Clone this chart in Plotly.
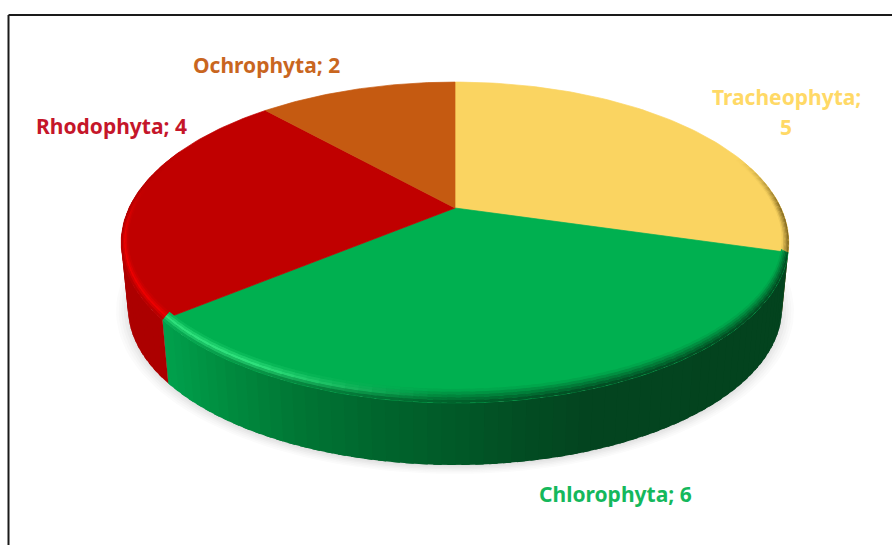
import numpy as np
import plotly.graph_objects as go

# slices run clockwise from 12 o'clock
categories = ['Tracheophyta', 'Chlorophyta', 'Rhodophyta', 'Ochrophyta']
values = [5, 6, 4, 2]
slice_colours = ['#FAD461', '#00B050', '#C00000', '#C55A11']
label_colours = ['#FFD966', '#14B85C', '#C5162A', '#C9661F']

# chart layout, in page pixels
CX, CY = 455, 208
RX, RY, PERSP = 326, 153, 0.215
DEPTH, BOTTOM_SCALE = 66, 0.98
BEVEL = 9

label_pos = {
    'Tracheophyta': (786, 97),
    'Chlorophyta': (615, 494),
    'Rhodophyta': (111, 126),
    'Ochrophyta': (266, 65),
}

green_side_x = [165, 230, 300, 380, 450, 520, 590, 790]
green_side_c = [(0, 160, 76), (0, 138, 62), (0, 117, 52), (0, 101, 45),
                (1, 90, 40), (2, 77, 35), (3, 68, 31), (3, 67, 30)]


def project(theta, r=1.0, dy=0.0, scale=1.0):
    # small correction: the lower left of the original sits a little further round
    if 106 < theta < 318:
        theta = theta - 2.2 * np.sin(np.radians((theta - 106) / 212 * 180))
    t = np.radians(theta)
    x, y = r * np.sin(t), r * np.cos(t)
    w = 1 + PERSP * y
    return CX + RX * x / w * scale, CY + dy - RY * y / w * scale


def hex_rgb(c):
    return tuple(int(c[i:i + 2], 16) for i in (1, 3, 5))


def mix(a, b, f):
    return tuple(a[i] + (b[i] - a[i]) * f for i in range(3))


def css(c):
    return 'rgb(%d,%d,%d)' % tuple(round(v) for v in c)


def polygon(xs, ys, colour, name=None):
    fig.add_trace(go.Scatter(x=list(xs), y=list(ys), mode='lines', fill='toself',
                             fillcolor=colour,
                             line=dict(color=colour, width=0.7) if name else dict(width=0),
                             hoverinfo='name' if name else 'skip', name=name or '',
                             showlegend=False))


def side_colour(cat, theta, x):
    if cat == 'Chlorophyta':
        return tuple(np.interp(x, green_side_x, [c[i] for c in green_side_c]) for i in range(3))
    if cat == 'Rhodophyta':
        return (172, 0, 0)
    if cat == 'Tracheophyta':
        return (125, 100, 30)
    return (140, 60, 10)


def highlight(cat, theta, x):
    if cat == 'Chlorophyta':
        return (47, 224, 124), float(np.clip((440 - x) / 190, 0, 1))
    if cat == 'Rhodophyta':
        return (236, 0, 0), float(np.clip((285 - theta) / 25, 0, 1))
    return (0, 0, 0), 0.0


def edge_strength(cat, theta):
    if cat == 'Tracheophyta':
        return float(np.clip((theta - 70) / 20, 0, 1))
    if cat == 'Rhodophyta':
        return float(np.clip((292 - theta) / 22, 0, 1))
    if cat == 'Ochrophyta':
        return 0.0
    return 1.0


def bevel_point(theta, level):
    # level 1 is the outer edge; the band is pushed up only along the front
    front = max(0.0, -np.cos(np.radians(theta)))
    return project(theta, r=1 - 0.02 * (1 - level), dy=-BEVEL * front * (1 - level))


fig = go.Figure()

# soft shadow below the pie
angles = np.linspace(0, 360, 181)
for s, shade in zip([1.036, 1.028, 1.02, 1.012, 1.004, 0.996],
                    ['#FBFBFB', '#F7F7F7', '#F2F2F2', '#ECECEC', '#E6E6E6', '#E0E0E0']):
    pts = [project(a, dy=DEPTH + 2, scale=BOTTOM_SCALE * s) for a in angles]
    polygon([p[0] for p in pts], [p[1] for p in pts], shade)

edges = np.concatenate([[0], np.cumsum(values)]) / sum(values) * 360
spans = list(zip(categories, slice_colours, edges[:-1], edges[1:]))

# rim, one thin strip per step; each strip overlaps the next one to hide seams
STEP = 2.0
for cat, colour, a0, a1 in spans:
    lo, hi = max(a0, 85), min(a1, 275)
    if lo >= hi:
        continue
    steps = np.arange(lo, hi, STEP)
    for t0 in steps:
        t1 = min(t0 + STEP * 1.6, hi)
        xa, ya = project(t0)
        xb, yb = project(t1)
        xc, yc = project(t1, dy=DEPTH, scale=BOTTOM_SCALE)
        xd, yd = project(t0, dy=DEPTH, scale=BOTTOM_SCALE)
        c = side_colour(cat, t0 + STEP / 2, project(t0 + STEP / 2)[0])
        polygon([xa, xb, xc, xd, xa], [ya, yb, yc, yd, ya], css(c))

# top faces
for cat, colour, a0, a1 in spans:
    arc = np.linspace(a0, a1, 80)
    pts = [project(a) for a in arc]
    polygon([CX] + [p[0] for p in pts] + [CX], [CY] + [p[1] for p in pts] + [CY], colour, name=cat)

# bevel along the front edge of the top faces
levels = np.linspace(0, 1, 6)
for cat, colour, a0, a1 in spans:
    if cat == 'Ochrophyta':
        continue
    base = hex_rgb(colour)
    for t0 in np.arange(a0, a1, STEP):
        t1 = min(t0 + STEP * 1.6, a1)
        mid = t0 + STEP / 2
        strength = edge_strength(cat, mid)
        if strength == 0:
            continue
        x_mid = project(mid)[0]
        side = side_colour(cat, mid, x_mid)
        hl, hl_amount = highlight(cat, mid, x_mid)
        peak = mix(mix(base, side, 0.5), hl, hl_amount)
        for l0, l1 in zip(levels[:-1], levels[1:]):
            lm = (l0 + l1) / 2
            c = mix(base, peak, lm * 2) if lm < 0.5 else mix(peak, side, (lm - 0.5) * 2)
            c = mix(base, c, strength)
            xa, ya = bevel_point(t0, l0)
            xb, yb = bevel_point(t1, l0)
            xc, yc = bevel_point(t1, l1)
            xd, yd = bevel_point(t0, l1)
            polygon([xa, xb, xc, xd, xa], [ya, yb, yc, yd, ya], css(c))

# data labels
annotations = []
for cat, val, colour in zip(categories, values, label_colours):
    x, y = label_pos[cat]
    font = dict(family='Noto Sans, Open Sans, sans-serif', size=21, color=colour, weight='bold')
    if cat == 'Tracheophyta':
        # wrapped over two lines in the original
        annotations.append(dict(x=x, y=y, text=f'{cat};', showarrow=False, font=font))
        annotations.append(dict(x=x, y=y + 30, text=str(val), showarrow=False, font=font))
    else:
        annotations.append(dict(x=x, y=y, text=f'{cat}; {val}', showarrow=False, font=font))

fig.update_layout(
    width=892, height=545, autosize=False,
    margin=dict(l=0, r=0, t=0, b=0),
    paper_bgcolor='white', plot_bgcolor='white',
    xaxis=dict(range=[0, 892], visible=False, fixedrange=True),
    yaxis=dict(range=[545, 0], visible=False, fixedrange=True),
    annotations=annotations,
    shapes=[
        dict(type='line', x0=8.5, x1=892, y0=15, y1=15, line=dict(color='#1A1A1A', width=2)),
        dict(type='line', x0=8.5, x1=8.5, y0=15, y1=545, line=dict(color='#1A1A1A', width=2)),
    ],
)

fig.write_html('out.html', config=dict(displayModeBar=False),
               post_script="document.body.style.margin='0';document.body.style.overflow='hidden';")
